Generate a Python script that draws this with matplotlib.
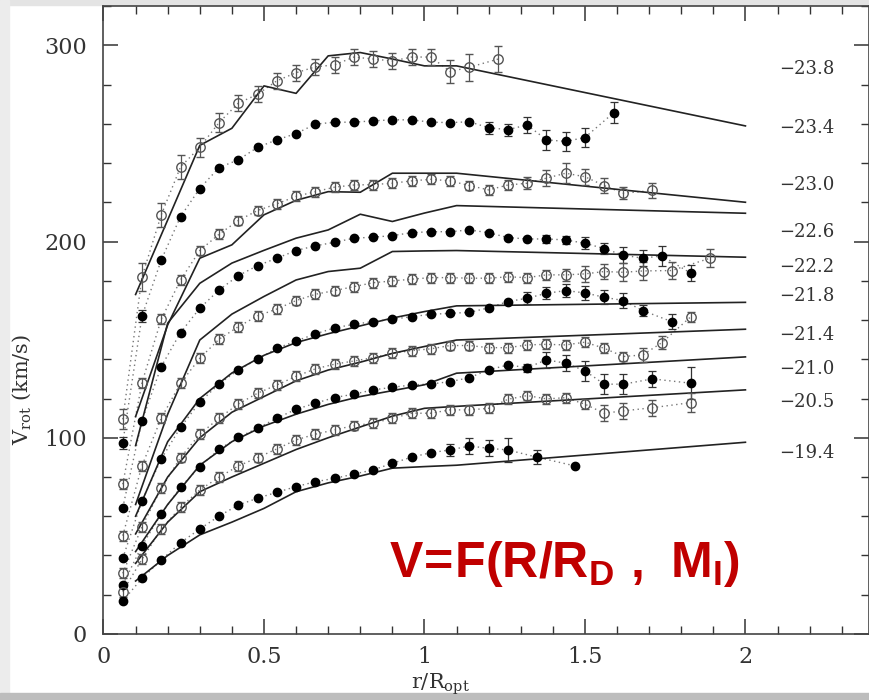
import matplotlib.pyplot as plt
from matplotlib.ticker import MultipleLocator
from matplotlib.patches import Rectangle

plt.rcParams['font.family'] = ['DejaVu Serif']
plt.rcParams['mathtext.fontset'] = 'custom'
plt.rcParams['mathtext.rm'] = 'DejaVu Serif'
plt.rcParams['mathtext.it'] = 'DejaVu Serif:italic'
plt.rcParams['mathtext.bf'] = 'Liberation Sans:bold'

# radial grid of the binned data (r / R_opt)
r_grid = [0.06, 0.12, 0.18, 0.24, 0.30, 0.36, 0.42, 0.48, 0.54, 0.60,
          0.66, 0.72, 0.78, 0.84, 0.90, 0.96, 1.02, 1.08, 1.14, 1.20,
          1.26, 1.32, 1.38, 1.44, 1.50]

# luminosity bins and where their labels sit
mags = ['\u221223.8', '\u221223.4', '\u221223.0', '\u221222.6', '\u221222.2',
        '\u221221.8', '\u221221.4', '\u221221.0', '\u221220.5', '\u221219.4']
mag_label_v = [288, 258, 229, 205, 187, 172, 152.5, 135, 118, 92]

# data: velocity (km/s) and error for each bin
r_238 = r_grid[:19] + [1.23]
v_238 = [109.4, 182, 213.6, 238, 248, 260.6, 270.5, 275, 281.9, 286,
         289, 290, 294, 293, 292, 294, 294, 286.6, 288.8, 293]
e_238 = [5, 7, 6, 6, 5, 5, 4, 4, 4, 4, 4, 4, 4, 4, 4, 4, 4, 6, 7, 6.5]

r_234 = r_grid + [1.59]
v_234 = [97.4, 162, 190.6, 212.7, 227, 237.7, 241.6, 248, 251.8, 255,
         259.8, 260.8, 260.8, 261.5, 262, 262, 260.8, 260.6, 261,
         258, 257, 259.4, 251.8, 251, 253, 265.7]
e_234 = [3, 3, 0, 0, 0, 0, 0, 0, 0, 0, 0, 0, 0, 0, 0, 0, 0, 0, 0,
         3, 3, 4, 5, 5, 5, 5.5]

r_230 = r_grid + [1.56, 1.62, 1.71]
v_230 = [76.3, 128.1, 160.4, 180.4, 195.4, 203.7, 210.7, 215.8, 219.2, 223,
         225.4, 227.7, 228.8, 229, 229.7, 230.9, 231.7, 230.9, 228.5,
         226.3, 228.8, 229.7, 232.3, 234.8, 233, 228.5, 224.6, 226]
e_230 = [2.5] * 21 + [3, 4, 5, 4, 4, 3, 4]

r_226 = r_grid + [1.56, 1.62, 1.68, 1.74, 1.83]
v_226 = [64.4, 108.7, 136.3, 153.6, 166, 175.3, 182.6, 187.7, 191.5, 195.4,
         197.8, 199.6, 201.7, 202.2, 203, 204.5, 205, 205, 205.9,
         204.5, 202, 201.3, 201.3, 200.8, 199.1, 196.4, 193, 191.5, 192.7, 183.8]
e_226 = [0] * 22 + [2, 2, 3, 3, 4, 4, 5, 4]

r_222 = r_grid + [1.56, 1.62, 1.68, 1.77, 1.89]
v_222 = [50.1, 85.8, 110, 127.8, 140.5, 150.2, 156.6, 162.1, 165.6, 169.9,
         173.1, 175, 177, 179, 179.9, 180.8, 181.6, 181.6, 181.3,
         181.3, 182, 181.6, 183, 183, 183.5, 184.7, 184.3, 185, 185.2, 191.5]
e_222 = [2.5] * 22 + [2.5, 3, 4, 4, 4.5, 4.5, 4.5, 4.5]

r_218 = r_grid + [1.56, 1.62, 1.68, 1.77]
v_218 = [38.6, 67.9, 89.2, 105.3, 118.1, 127.4, 134.6, 140, 145.6, 149.3,
         152.9, 156, 157.8, 159.2, 160.4, 161.7, 162.9, 163.4, 163.9,
         166.2, 169.4, 171.1, 173.6, 175, 173.8, 171.6, 169.9, 164.8, 159.2]
e_218 = [0] * 21 + [3, 3, 3.5, 3.5, 3.5, 4, 3, 4]

r_214 = r_grid + [1.56, 1.62, 1.68, 1.74, 1.83]
v_214 = [30.9, 54.7, 74.3, 89.9, 101.8, 110, 117.2, 122.7, 126.9, 131.3,
         135.1, 137.5, 139.1, 140.8, 143, 144.4, 145.3, 147, 147,
         145.9, 145.9, 147.3, 147.6, 147.3, 148.7, 145.6, 141.4, 142.2, 148.5, 161.7]
e_214 = [2.5] * 25 + [2.5, 2.5, 3.5, 3.5, 2.5]

r_210 = r_grid + [1.56, 1.62, 1.71, 1.83]
v_210 = [25, 45, 61.2, 74.8, 85.3, 94.1, 100.2, 104.8, 110, 114.5,
         117.6, 120.5, 122.2, 124.4, 125.7, 126.9, 127.4, 128.6, 130.6,
         134.6, 137.1, 135.7, 139.7, 138, 134.1, 127.3, 127.3, 130, 127.8]
e_210 = [0] * 21 + [2, 4, 4, 5, 5, 5, 4, 8]

r_205 = r_grid + [1.56, 1.62, 1.71, 1.83]
v_205 = [21.6, 38.1, 53.4, 64.6, 73.4, 79.9, 85.6, 89.9, 94.3, 98.9,
         101.8, 104, 106.2, 107.4, 109.9, 112.5, 112.5, 114.2, 114.2,
         115, 119.6, 121.5, 119.8, 120.4, 117.1, 112.5, 113.7, 115.3, 117.9]
e_205 = [2.5] * 25 + [4, 4, 4, 5]

r_194 = r_grid[:21] + [1.35, 1.47]
v_194 = [16.8, 28.4, 37.7, 46.5, 53.5, 60.1, 65.7, 69.2, 72.2, 75.1,
         77.6, 79.3, 81.5, 83.6, 87, 90.1, 92.4, 93.8, 95.8, 94.6, 93.8, 90.1, 85.6]
e_194 = [0] * 17 + [3, 4, 4, 6, 3.5, 0]

series = [
    (r_238, v_238, e_238, 'open'),
    (r_234, v_234, e_234, 'filled'),
    (r_230, v_230, e_230, 'open'),
    (r_226, v_226, e_226, 'filled'),
    (r_222, v_222, e_222, 'open'),
    (r_218, v_218, e_218, 'filled'),
    (r_214, v_214, e_214, 'open'),
    (r_210, v_210, e_210, 'filled'),
    (r_205, v_205, e_205, 'open'),
    (r_194, v_194, e_194, 'filled'),
]

# model curves (solid lines)
model_r = [0.1, 0.2, 0.3, 0.4, 0.5, 0.6, 0.7, 0.8, 0.9, 1.0, 1.1, 2.0]
model_1 = [173, 211, 249, 257.7, 279.3, 275.5, 294.6, 296.3, 293, 289.5, 289.5, 258.9]
model_2 = [110.8, 157.5, 191.5, 198.3, 213.6, 221, 225.4, 225.1, 234.8, 234.8, 234.8, 220]
model_3 = [96, 158.4, 178.7, 189, 195.5, 201.7, 205.9, 213.9, 210.2, 214.5, 218.3, 214.4]
model_4 = [66, 112, 149.8, 163, 172, 180.4, 184.7, 186.4, 194.9, 195.2, 195.4, 192]
model_5 = [60, 98, 120, 133, 142, 148.5, 153, 157, 161, 164.3, 167.2, 169]
model_6 = [51, 80, 100, 113, 121, 129, 134.5, 138.5, 143, 146.5, 149.8, 155.3]
model_7 = [42, 66, 86, 98, 106, 112, 117, 121, 124, 127, 132.9, 141.2]
model_8 = [36, 57, 72.5, 80, 87, 94, 100, 105.5, 111, 115, 116, 124.4]
model_9 = [27, 40, 50.5, 57, 64, 72.5, 77, 80.5, 84.5, 85.3, 86, 97.7]
models = [model_1, model_2, model_3, model_4, model_5, model_6, model_7, model_8, model_9]

fig = plt.figure(figsize=(8.69, 7.0), dpi=100)
ax = fig.add_axes([0.1191, 0.0943, 0.8809, 0.8971])

for m in models:
    ax.plot(model_r, m, color='#222222', lw=1.2, zorder=2)

for r, v, e, kind in series:
    ax.plot(r, v, ls=(0, (1, 2.5)), color='#777777', lw=1.0, zorder=1)
    if kind == 'open':
        ax.errorbar(r, v, yerr=e, fmt='o', ms=6.8, mfc='none', mec='#555555',
                    mew=1.0, ecolor='#555555', elinewidth=0.9, capsize=3,
                    capthick=0.9, zorder=3)
    else:
        ax.errorbar(r, v, yerr=e, fmt='o', ms=6.0, mfc='black', mec='black',
                    ecolor='#333333', elinewidth=0.9, capsize=3,
                    capthick=0.9, zorder=3)

for lab, y in zip(mags, mag_label_v):
    ax.text(2.105, y, lab, fontsize=13, color='#333333', va='center', ha='left')

ax.text(0.89, 29, r'$\mathbf{V\!=\!F(R/R_D\ ,\ M_I)}$', color='#c00000',
        fontsize=36, ha='left', va='baseline')

ax.set_xlim(0, 2.385)
ax.set_ylim(0, 320)
ax.xaxis.set_major_locator(MultipleLocator(0.5))
ax.xaxis.set_minor_locator(MultipleLocator(0.1))
ax.yaxis.set_major_locator(MultipleLocator(100))
ax.yaxis.set_minor_locator(MultipleLocator(20))
ax.set_xticks([0, 0.5, 1, 1.5, 2])
ax.set_xticklabels(['0', '0.5', '1', '1.5', '2'])
ax.tick_params(which='both', direction='in', top=True, right=True,
               labelsize=16, colors='#333333')
ax.tick_params(axis='y', pad=12)
ax.tick_params(axis='x', pad=9)
ax.tick_params(which='major', length=11, width=1.1)
ax.tick_params(which='minor', length=5.5, width=1.0)
for s in ax.spines.values():
    s.set_color('#444444')
    s.set_linewidth(1.2)

ax.set_xlabel(r'r/R$_{\mathrm{opt}}$', fontsize=15, color='#333333')
ax.set_ylabel(r'V$_{\mathrm{rot}}$ (km/s)', fontsize=15, color='#333333')
ax.xaxis.set_label_coords(0.44, -0.06)
ax.yaxis.set_label_coords(-0.092, 0.39)

# grey screenshot border, kept behind the axes
fig.patches.append(Rectangle((0, 0.993), 1, 0.007, transform=fig.transFigure,
                             color='#e4e4e4', zorder=-1))
fig.patches.append(Rectangle((0, 0), 0.01, 1, transform=fig.transFigure,
                             color='#ececec', zorder=-1))
fig.patches.append(Rectangle((0, 0), 1, 0.01, transform=fig.transFigure,
                             color='#bdbdbd', zorder=-1))

fig.savefig('out.png', dpi=100)
